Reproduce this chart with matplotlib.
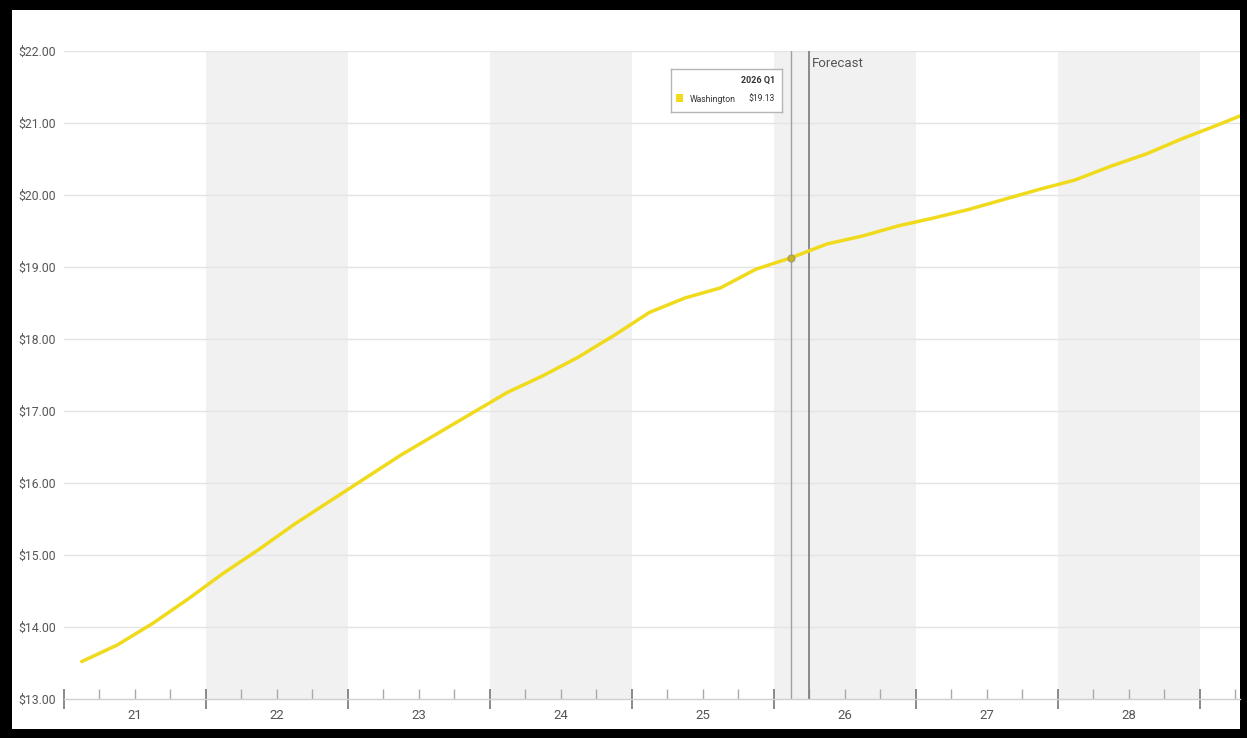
import numpy as np
import matplotlib
matplotlib.use("Agg")
import matplotlib.pyplot as plt
from matplotlib.patches import Rectangle
from matplotlib.ticker import FixedLocator, FuncFormatter

plt.rcParams['font.family'] = ['Roboto', 'DejaVu Sans']

# Quarterly hourly wage, 2021 Q1 onward (actuals then forecast)
start_year = 2021
wage = [
    13.52, 13.75, 14.05, 14.39,   # 2021
    14.75, 15.08, 15.43, 15.75,   # 2022
    16.07, 16.39, 16.68, 16.97,   # 2023
    17.26, 17.49, 17.75, 18.05,   # 2024
    18.37, 18.57, 18.71, 18.97,   # 2025
    19.13, 19.32, 19.43, 19.57,   # 2026
    19.68, 19.80, 19.94, 20.08,   # 2027
    20.21, 20.40, 20.57, 20.78,   # 2028
    20.97, 21.17,                 # 2029
]
series_name = "Washington"
year_labels = ["21", "22", "23", "24", "25", "26", "27", "28"]
shaded_years = [2022, 2024, 2026, 2028]
forecast_start = 2026.25
highlight_index = 20          # 2026 Q1
highlight_label = "2026 Q1"
y_ticks = [13, 14, 15, 16, 17, 18, 19, 20, 21, 22]

line_color = "#F0DA1C"
x = start_year + (np.arange(len(wage)) + 0.5) / 4.0

W, H = 1247, 738
fig = plt.figure(figsize=(W / 100, H / 100), dpi=100)
fig.patch.set_facecolor("black")
fig.add_artist(Rectangle((12 / W, 9 / H), (1240 - 12) / W, (728 - 9) / H,
                         transform=fig.transFigure, facecolor="white",
                         edgecolor="none", zorder=-10))

ax = fig.add_axes([64 / W, 39 / H, (1240 - 64) / W, (699 - 51) / H])
ax.set_facecolor("white")
ax.set_xlim(2021.0, 2029.285)
ax.set_ylim(13, 22)

# alternating year bands
for yr in shaded_years:
    ax.axvspan(yr, yr + 1, color="#f1f1f1", lw=0, zorder=0)

# horizontal grid
for v in y_ticks[1:]:
    ax.axhline(v, color="#e4e4e4", lw=1, zorder=1)

for s in ["top", "right", "left"]:
    ax.spines[s].set_visible(False)
ax.spines["bottom"].set_color("#d0d0d0")
ax.spines["bottom"].set_linewidth(1)

ax.yaxis.set_major_locator(FixedLocator(y_ticks))
ax.yaxis.set_major_formatter(FuncFormatter(lambda v, p: f"${v:.2f}"))
ax.tick_params(axis="y", length=0, pad=6, labelsize=8.8, labelcolor="#555555")

# year boundaries as major ticks, quarter boundaries as minor ticks
years = np.arange(2021, 2030)
quarters = [yr + q / 4 for yr in range(2021, 2030) for q in (1, 2, 3)]
ax.xaxis.set_major_locator(FixedLocator(years))
ax.xaxis.set_major_formatter(FuncFormatter(lambda v, p: ""))
ax.xaxis.set_minor_locator(FixedLocator(quarters))


def year_fmt(v, p):
    frac = v - np.floor(v)
    idx = int(np.floor(v)) - start_year
    if abs(frac - 0.5) < 1e-6 and 0 <= idx < len(year_labels):
        return year_labels[idx]
    return ""


ax.xaxis.set_minor_formatter(FuncFormatter(year_fmt))
ax.tick_params(axis="x", which="major", direction="inout", length=15,
               width=1.2, color="#777777")
ax.tick_params(axis="x", which="minor", direction="in", length=7,
               width=1, color="#aaaaaa", pad=7, labelsize=9.5,
               labelcolor="#555555")

# cursor and forecast lines
ax.axvline(x[highlight_index], color="#a0a0a0", lw=1, zorder=2)
ax.axvline(forecast_start, color="#7a7a7a", lw=1.2, zorder=2)
ax.text(forecast_start + 0.02, 21.82, "Forecast", fontsize=9.5,
        color="#555555", ha="left", va="center")

ax.plot(x, wage, color=line_color, lw=2.5, zorder=3, solid_capstyle="round",
        clip_on=True)
ax.plot(x[highlight_index], wage[highlight_index], "o", ms=5,
        color="#c9b428", mec="#a09a70", mew=0.8, zorder=4)

# tooltip box
tip = fig.add_axes([671 / W, (738 - 112) / H, (782 - 671) / W, (112 - 69) / H])
tip.set_xlim(0, 111)
tip.set_ylim(43, 0)
tip.set_xticks([])
tip.set_yticks([])
tip.set_facecolor("white")
for s in tip.spines.values():
    s.set_color("#b5b5b5")
    s.set_linewidth(1)
tip.text(104, 11, highlight_label, fontsize=6.5, fontweight="bold",
         color="#333333", ha="right", va="center")
tip.add_patch(Rectangle((5, 25), 7, 8, facecolor=line_color, edgecolor="none"))
tip.text(19, 30, series_name, fontsize=6.2, color="#333333",
         ha="left", va="center")
tip.text(104, 30, f"${wage[highlight_index]:.2f}", fontsize=6.2,
         color="#333333", ha="right", va="center")

fig.savefig("out.png", dpi=100, facecolor=fig.get_facecolor())
